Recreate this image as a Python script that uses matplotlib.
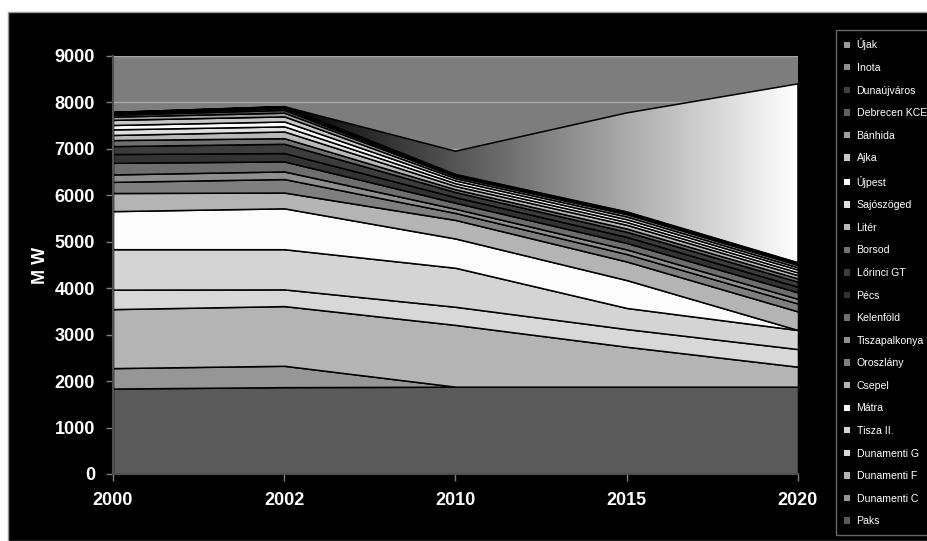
import numpy as np
import matplotlib
matplotlib.use('Agg')
import matplotlib.pyplot as plt
from matplotlib.patches import Rectangle, Patch

plt.rcParams['font.family'] = ['Liberation Sans', 'DejaVu Sans']

# x categories
years = ['2000', '2002', '2010', '2015', '2020']

# MW per power plant (stacked bottom -> top)
paks          = [1840, 1870, 1880, 1880, 1880]
dunamenti_c   = [440, 460, 0, 0, 0]
dunamenti_f   = [1270, 1285, 1330, 860, 430]
dunamenti_g   = [420, 360, 390, 380, 380]
tisza_2       = [870, 865, 840, 455, 410]
matra         = [820, 880, 630, 600, 0]
csepel        = [390, 340, 400, 400, 400]
oroszlany     = [240, 290, 150, 160, 170]
tiszapalkonya = [160, 165, 90, 100, 100]
kelenfold     = [250, 215, 130, 140, 140]
pecs          = [190, 180, 120, 130, 120]
lorinci       = [170, 200, 110, 110, 110]
borsod        = [130, 120, 60, 70, 70]
liter         = [110, 145, 70, 80, 70]
sajoszoged    = [120, 110, 60, 60, 60]
ujpest        = [95, 105, 60, 60, 60]
ajka          = [110, 110, 50, 60, 50]
banhida       = [70, 80, 40, 50, 50]
debrecen      = [40, 60, 20, 20, 20]
dunaujvaros   = [30, 40, 10, 20, 20]
inota         = [20, 30, 10, 10, 10]
ujak          = [0, 0, 500, 2130, 3850]

names = ['Paks', 'Dunamenti C', 'Dunamenti F', 'Dunamenti G', 'Tisza II.', 'Mátra',
         'Csepel', 'Oroszlány', 'Tiszapalkonya', 'Kelenföld', 'Pécs', 'Lőrinci GT',
         'Borsod', 'Litér', 'Sajószöged', 'Újpest', 'Ajka', 'Bánhida',
         'Debrecen KCE', 'Dunaújváros', 'Inota', 'Újak']
series = [paks, dunamenti_c, dunamenti_f, dunamenti_g, tisza_2, matra,
          csepel, oroszlany, tiszapalkonya, kelenfold, pecs, lorinci,
          borsod, liter, sajoszoged, ujpest, ajka, banhida,
          debrecen, dunaujvaros, inota, ujak]
colors = ['#5a5a5a', '#969696', '#b4b4b4', '#d8d8d8', '#d4d4d4', '#fcfcfc',
          '#b4b4b4', '#7f7f7f', '#8f8f8f', '#6e6e6e', '#333333', '#3c3c3c',
          '#707070', '#b8b8b8', '#e0e0e0', '#ffffff', '#c8c8c8', '#a0a0a0',
          '#606060', '#404040', '#909090', '#9a9a9a']

fig = plt.figure(figsize=(9.28, 5.41), dpi=100, facecolor='white')
# black chart area with a thin grey border
fig.patches.append(Rectangle((8 / 928, 0), 1, 1 - 12 / 541, transform=fig.transFigure,
                             facecolor='black', edgecolor='#9a9a9a', linewidth=1, zorder=-10))

ax = fig.add_axes([113 / 928, 1 - 474 / 541, 685 / 928, 418 / 541])
ax.set_facecolor('#7d7d7d')

x = np.arange(len(years))
polys = ax.stackplot(x, *series, colors=colors, edgecolor='black', linewidth=1.1, zorder=2)

# gradient fill for the top series (black -> white to the right)
top = polys[-1]
top.set_facecolor('none')
grad = np.linspace(0, 1, 256).reshape(1, -1)
im = ax.imshow(grad, cmap='gray', aspect='auto', extent=[1, 4, 0, 9000],
               vmin=0, vmax=1, zorder=1.9, interpolation='bilinear')
im.set_clip_path(top.get_paths()[0], transform=ax.transData)

ax.set_xlim(0, 4)
ax.set_ylim(0, 9000)
ax.set_xticks(x)
ax.set_xticklabels(years)
ax.set_yticks(np.arange(0, 9001, 1000))
ax.grid(axis='y', color='#a8a8a8', linewidth=1, zorder=0)
ax.set_axisbelow(True)

for s in ['top', 'right']:
    ax.spines[s].set_visible(False)
for s in ['left', 'bottom']:
    ax.spines[s].set_color('#505050')
    ax.spines[s].set_linewidth(1.5)
    ax.spines[s].set_zorder(5)

ax.tick_params(axis='both', colors='#808080', labelcolor='white', length=5, width=1,
               labelsize=13)
ax.tick_params(axis='y', pad=8)
ax.tick_params(axis='x', pad=8)
for lab in ax.get_xticklabels() + ax.get_yticklabels():
    lab.set_fontweight('bold')

ax.set_ylabel('M W', color='white', fontsize=13, fontweight='bold', labelpad=4)

handles = [Patch(facecolor=c, edgecolor='none') for c in colors]
leg = fig.legend(handles[::-1], names[::-1], loc='upper left',
                 bbox_to_anchor=(836 / 928, 1 - 30 / 541), frameon=True,
                 fancybox=False, facecolor='black', edgecolor='#808080',
                 fontsize=7.6, labelcolor='white', handlelength=0.55, handleheight=0.55,
                 handletextpad=0.6, labelspacing=1.19, borderpad=0.8, borderaxespad=0)
leg.get_frame().set_linewidth(1)

fig.savefig('out.png', dpi=100, facecolor=fig.get_facecolor())
